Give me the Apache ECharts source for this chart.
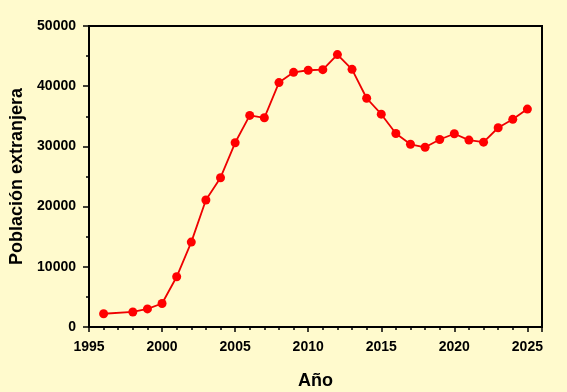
<!DOCTYPE html>
<html><head><meta charset="utf-8">
<script src="https://cdn.jsdelivr.net/npm/echarts@6/dist/echarts.min.js"></script>
<style>html,body{margin:0;padding:0;background:#fffacd;}#c{width:567px;height:392px;}</style>
</head><body><div id="c"></div>
<script>
const years = [1996,1998,1999,2000,2001,2002,2003,2004,2005,2006,2007,2008,2009,2010,2011,2012,2013,2014,2015,2016,2017,2018,2019,2020,2021,2022,2023,2024,2025];
const poblacion = [2200,2500,3000,3900,8340,14100,21100,24800,30600,35150,34750,40600,42300,42650,42750,45250,42800,38000,35350,32150,30350,29850,31150,32100,31050,30700,33100,34500,36200];
const xTicks = [1995,2000,2005,2010,2015,2020,2025];
const yTicks = [0,10000,20000,30000,40000,50000];

const font = 'Liberation Sans, Arial, sans-serif';
const chart = echarts.init(document.getElementById('c'));
chart.setOption({
  backgroundColor: '#fffacd',
  animation: false,
  grid: {left: 89, right: 25, top: 26, bottom: 65, containLabel: false, outerBoundsMode: 'none',
    show: true, borderColor: '#000', borderWidth: 2, backgroundColor: 'transparent'},
  xAxis: [{
    type: 'value', min: 1995, max: 2026, interval: 5, position: 'bottom',
    name: 'Año', nameLocation: 'middle', nameGap: 45,
    nameTextStyle: {fontFamily: font, fontWeight: 'bold', fontSize: 18, color: '#000'},
    axisLine: {show: true, lineStyle: {color: '#000', width: 2}},
    axisTick: {show: true, length: 5, lineStyle: {color: '#000', width: 1.5}},
    axisLabel: {margin: 13, fontFamily: font, fontWeight: 'bold', fontSize: 14, color: '#000',
      formatter: v => xTicks.includes(v) ? String(v) : ''},
    splitLine: {show: false}
  }, {
    type: 'value', min: 1995, max: 2026, interval: 1, position: 'bottom',
    axisLine: {show: false},
    axisTick: {show: true, length: 3, lineStyle: {color: '#000', width: 1.5}},
    axisLabel: {show: false},
    splitLine: {show: false}
  }],
  yAxis: {
    type: 'value', min: 0, max: 50000, interval: 10000,
    name: 'Población extranjera', nameLocation: 'middle', nameGap: 63, nameRotate: 90,
    nameTextStyle: {fontFamily: font, fontWeight: 'bold', fontSize: 18, color: '#000'},
    axisLine: {show: true, lineStyle: {color: '#000', width: 2}},
    axisTick: {show: true, length: 6, lineStyle: {color: '#000', width: 1.5}},
    minorTick: {show: true, splitNumber: 2, length: 3, lineStyle: {color: '#000', width: 1.5}},
    axisLabel: {margin: 13, fontFamily: font, fontWeight: 'bold', fontSize: 14, color: '#000',
      formatter: v => yTicks.includes(v) ? String(v) : ''},
    splitLine: {show: false}
  },
  series: [{
    type: 'line', xAxisIndex: 0,
    data: years.map((y, i) => [y, poblacion[i]]),
    symbol: 'circle', symbolSize: 9,
    lineStyle: {color: '#ee0000', width: 1.8},
    itemStyle: {color: '#ff0000'}
  }]
});
</script></body></html>
